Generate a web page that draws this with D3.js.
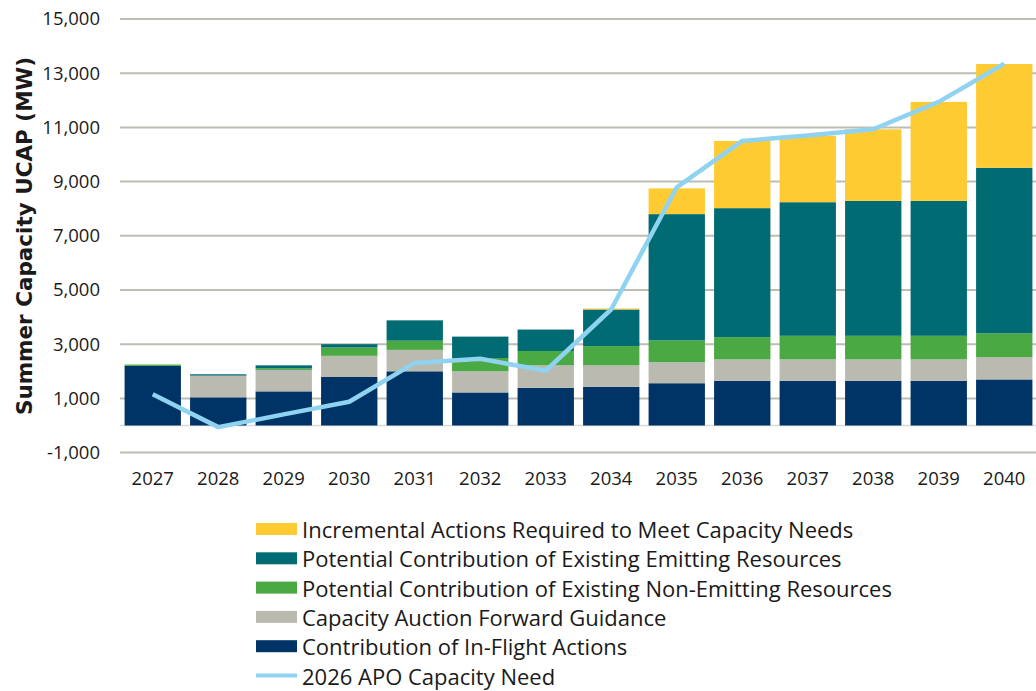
<!DOCTYPE html>
<meta charset="utf-8">
<script src="https://d3js.org/d3.v7.min.js"></script>
<style>
  body { margin: 0; background: #fff; }
  text { font-family: "Open Sans", sans-serif; fill: #1a1a1a; }
</style>
<body>
<div id="chart"></div>
<script>
// years on the x axis
var years = ["2027","2028","2029","2030","2031","2032","2033","2034","2035","2036","2037","2038","2039","2040"];

// stacked series, bottom to top (MW)
var inFlight    = [2200, 1040, 1260, 1790, 2000, 1220, 1390, 1430, 1560, 1650, 1650, 1650, 1650, 1700];
var auction     = [0, 800, 790, 780, 790, 780, 830, 790, 780, 790, 790, 790, 790, 820];
var nonEmitting = [50, 0, 60, 310, 340, 490, 530, 710, 800, 820, 870, 870, 870, 880];
var emitting    = [0, 50, 110, 120, 750, 790, 790, 1350, 4660, 4760, 4930, 4980, 4980, 6110];
var incremental = [0, 0, 0, 0, 0, 0, 0, 40, 950, 2480, 2450, 2640, 3650, 3830];

// line series
var capacityNeed = [1150, -60, 410, 875, 2310, 2460, 2020, 4290, 8790, 10500, 10700, 10930, 11940, 13350];

var yTicks = [-1000, 1000, 3000, 5000, 7000, 9000, 11000, 13000, 15000];

var seriesNames = [
  "Contribution of In-Flight Actions",
  "Capacity Auction Forward Guidance",
  "Potential Contribution of Existing Non-Emitting Resources",
  "Potential Contribution of Existing Emitting Resources",
  "Incremental Actions Required to Meet Capacity Needs"
];
var seriesColors = ["#003366", "#bbbab0", "#4aa942", "#006b72", "#ffcb33"];
var lineName = "2026 APO Capacity Need";
var lineColor = "#8fd3f1";

var width = 1036, height = 691;
var svg = d3.select("#chart").append("svg")
  .attr("width", width).attr("height", height);

var x = d3.scaleBand().domain(years).range([120, 1037])
  .paddingInner(0.14).paddingOuter(0.07);
var y = d3.scaleLinear().domain([-1000, 15000]).range([452.6, 19]);

// gridlines
svg.append("g").selectAll("line").data(yTicks).join("line")
  .attr("x1", 120).attr("x2", 1036)
  .attr("y1", function(d) { return y(d); }).attr("y2", function(d) { return y(d); })
  .attr("stroke", "#bdbdb3").attr("stroke-width", 2);

// zero line
svg.append("line")
  .attr("x1", 120).attr("x2", 1036).attr("y1", y(0)).attr("y2", y(0))
  .attr("stroke", "#d9d9d9").attr("stroke-width", 1.5);

// y axis labels (plain hyphen for negatives)
var fmt = d3.format(",");
var yAxis = svg.append("g").attr("transform", "translate(100,0)")
  .call(d3.axisLeft(y).tickValues(yTicks)
    .tickFormat(function(d) { return fmt(d).replace("\u2212", "-"); })
    .tickSize(0).tickPadding(0));
yAxis.select(".domain").remove();
yAxis.selectAll("text").style("font-family", "'Open Sans', sans-serif")
  .style("font-size", "18.5px").attr("fill", "#1a1a1a");

// x axis labels
var xAxis = svg.append("g").attr("transform", "translate(0,472)")
  .call(d3.axisBottom(x).tickSize(0).tickPadding(0));
xAxis.select(".domain").remove();
xAxis.selectAll("text").style("font-family", "'Open Sans', sans-serif")
  .style("font-size", "18.5px").attr("fill", "#1a1a1a");

// y axis title
svg.append("text")
  .attr("transform", "translate(24,236) rotate(-90)")
  .attr("text-anchor", "middle").attr("dominant-baseline", "central")
  .style("font-family", "'DejaVu Sans', sans-serif").style("font-weight", "bold")
  .style("font-size", "21.5px")
  .text("Summer Capacity UCAP (MW)");

// stacked bars
var table = years.map(function(yr, i) {
  return { year: yr, s0: inFlight[i], s1: auction[i], s2: nonEmitting[i], s3: emitting[i], s4: incremental[i] };
});
var stack = d3.stack().keys(["s0","s1","s2","s3","s4"])(table);

svg.append("g").selectAll("g").data(stack).join("g")
  .attr("fill", function(d, i) { return seriesColors[i]; })
  .selectAll("rect").data(function(d) { return d; }).join("rect")
    .attr("x", function(d) { return x(d.data.year); })
    .attr("width", x.bandwidth())
    .attr("y", function(d) { return y(d[1]); })
    .attr("height", function(d) { return y(d[0]) - y(d[1]); });

// capacity need line
svg.append("path")
  .datum(capacityNeed)
  .attr("fill", "none")
  .attr("stroke", lineColor)
  .attr("stroke-width", 4.5)
  .attr("stroke-linejoin", "round")
  .attr("d", d3.line()
    .x(function(d, i) { return x(years[i]) + x.bandwidth() / 2; })
    .y(function(d) { return y(d); }));

// legend
var legendItems = seriesNames.map(function(n, i) { return { name: n, color: seriesColors[i], type: "bar" }; }).reverse();
legendItems.push({ name: lineName, color: lineColor, type: "line" });

var legend = svg.append("g").selectAll("g").data(legendItems).join("g")
  .attr("transform", function(d, i) { return "translate(256," + (529 + i * 29.3) + ")"; });
legend.filter(function(d) { return d.type === "bar"; }).append("rect")
  .attr("x", 0).attr("y", -6).attr("width", 41).attr("height", 12)
  .attr("fill", function(d) { return d.color; });
legend.filter(function(d) { return d.type === "line"; }).append("line")
  .attr("x1", 0).attr("x2", 41).attr("y1", 0).attr("y2", 0)
  .attr("stroke", function(d) { return d.color; }).attr("stroke-width", 4);
legend.append("text")
  .attr("x", 46).attr("dominant-baseline", "central")
  .style("font-size", "22px")
  .text(function(d) { return d.name; });
</script>
</body>
